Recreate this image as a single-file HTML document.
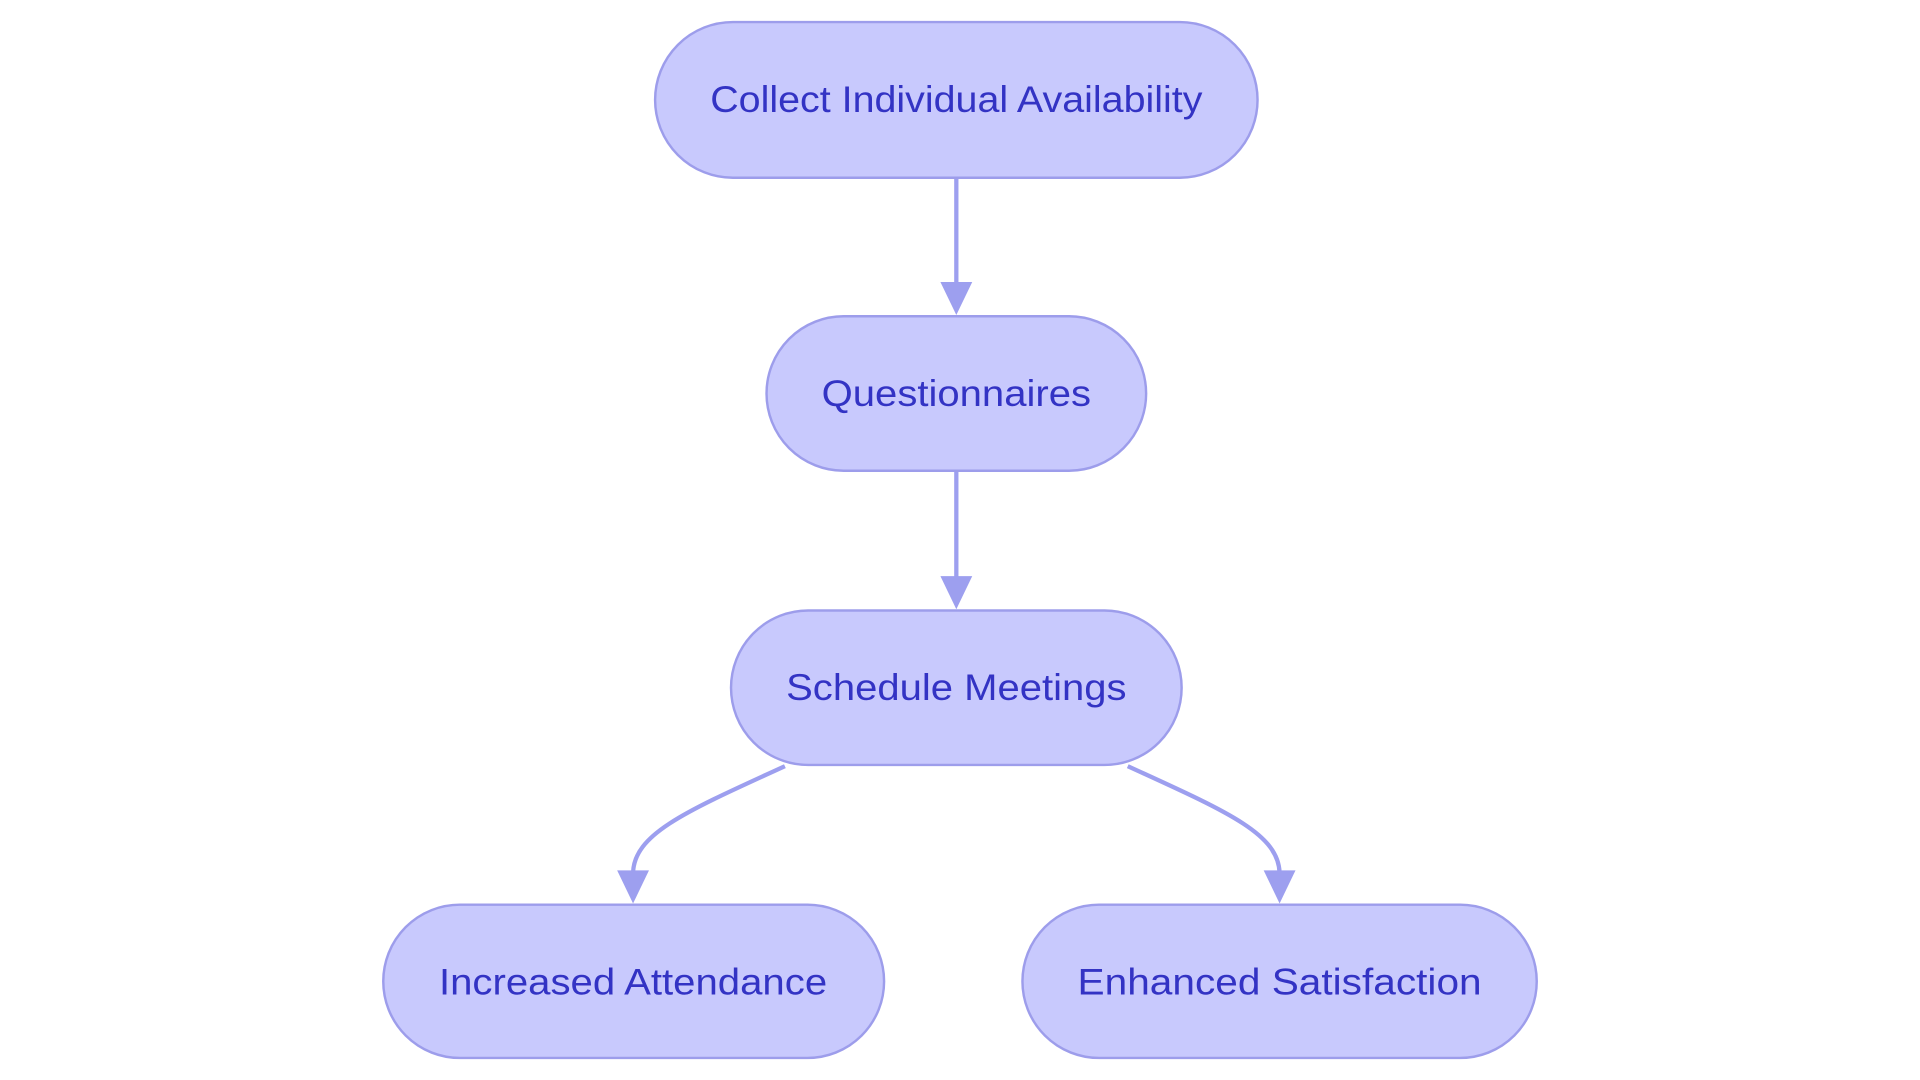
<!DOCTYPE html>
<html><head><meta charset="utf-8"><style>
html,body{margin:0;padding:0;background:#fff;width:1920px;height:1080px;overflow:hidden}
svg{display:block}
text{font-family:"Liberation Sans",sans-serif;font-size:30px;fill:#3333c4;text-anchor:middle;dominant-baseline:central}
</style></head><body>
<svg width="1920" height="1080" viewBox="0 0 1568 881" preserveAspectRatio="none">
<g fill="#c8c9fd" stroke="#9d9deb" stroke-width="2">
<rect x="535" y="18" width="492" height="127" rx="63.5"/>
<rect x="626" y="258" width="310" height="126" rx="63"/>
<rect x="597" y="498" width="368" height="126" rx="63"/>
<rect x="313" y="738" width="409" height="125" rx="62.5"/>
<rect x="835" y="738" width="420" height="125" rx="62.5"/>
</g>
<g stroke="#9d9fef" stroke-width="3.5" fill="none">
<line x1="781" y1="146" x2="781" y2="235"/>
<line x1="781" y1="385" x2="781" y2="475"/>
<path d="M641 625 C560 662 518 680 517 712"/>
<path d="M921 625 C1002 662 1044 680 1045 712"/>
</g>
<g fill="#9d9fef">
<polygon points="768,230 794,230 781,257"/>
<polygon points="768,470 794,470 781,497"/>
<polygon points="504,710 530,710 517,737"/>
<polygon points="1032,710 1058,710 1045,737"/>
</g>
<text x="781" y="81" textLength="402" lengthAdjust="spacingAndGlyphs">Collect Individual Availability</text>
<text x="781" y="321" textLength="220" lengthAdjust="spacingAndGlyphs">Questionnaires</text>
<text x="781" y="561" textLength="278" lengthAdjust="spacingAndGlyphs">Schedule Meetings</text>
<text x="517" y="801" textLength="317" lengthAdjust="spacingAndGlyphs">Increased Attendance</text>
<text x="1045" y="801" textLength="330" lengthAdjust="spacingAndGlyphs">Enhanced Satisfaction</text>
</svg>
</body></html>
